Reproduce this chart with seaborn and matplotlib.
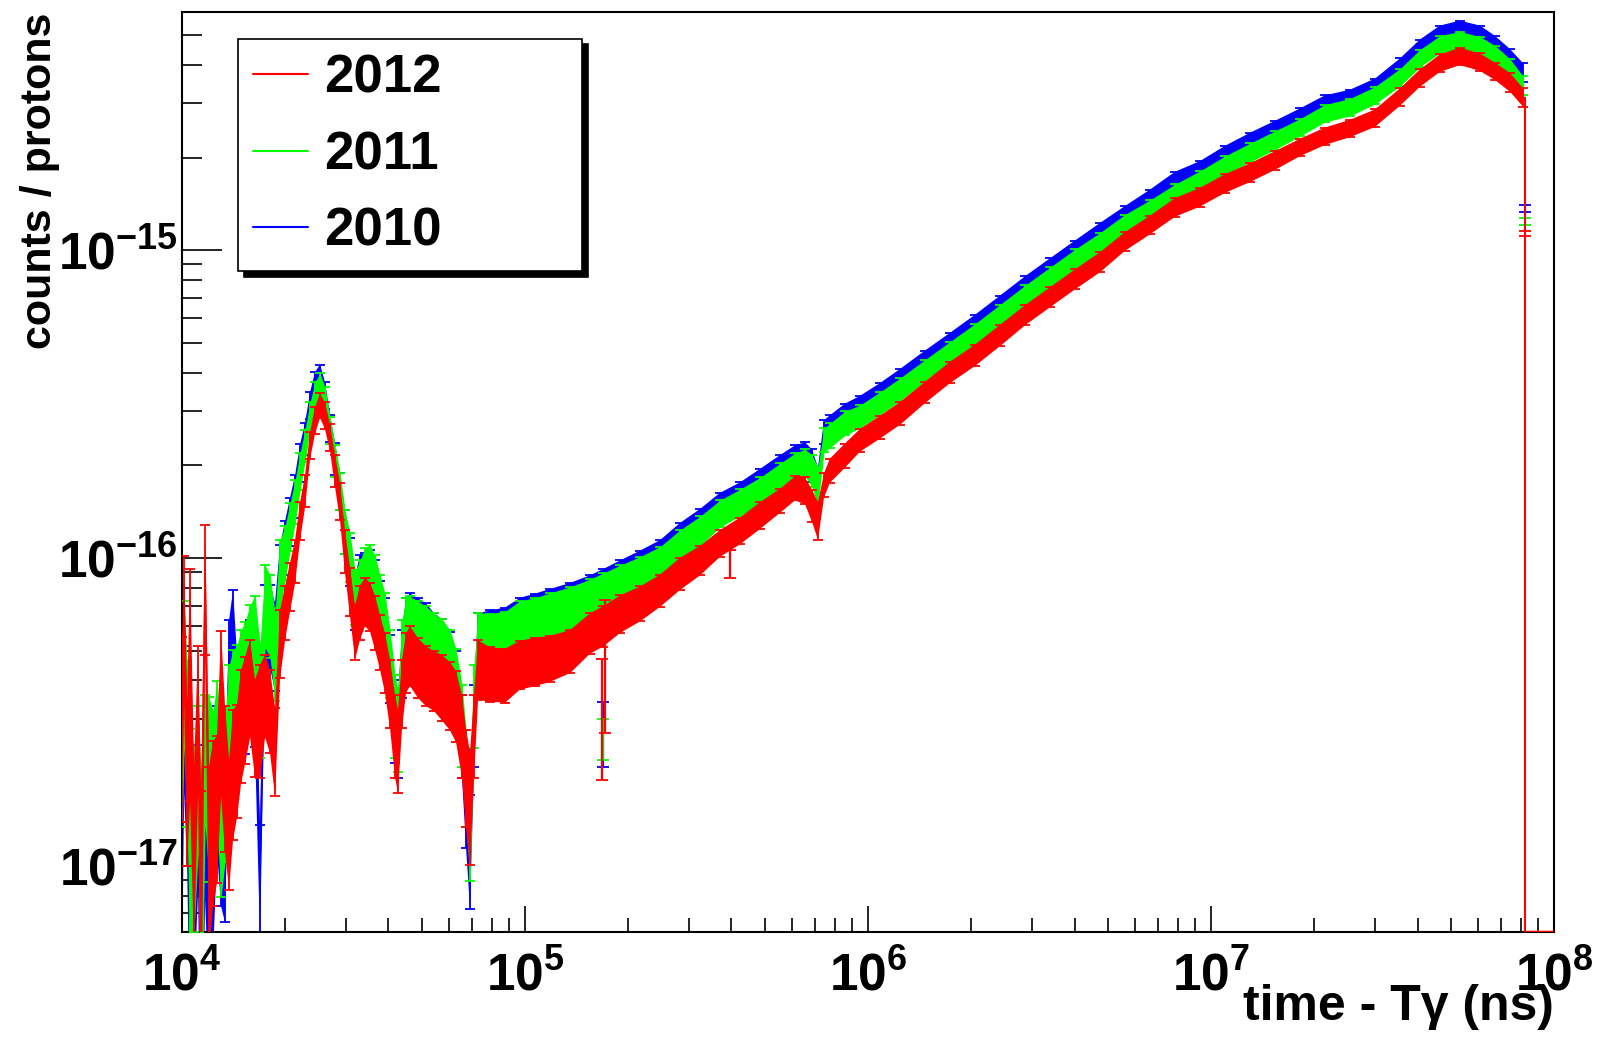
import numpy as np
import matplotlib
matplotlib.use("Agg")
import matplotlib.pyplot as plt
import seaborn as sns
from matplotlib.lines import Line2D
from matplotlib.ticker import LogLocator, FuncFormatter, NullFormatter

# ---------------- data ----------------
time_ns = [
    1.003e4, 1.015e4, 1.036e4, 1.057e4, 1.085e4, 1.115e4, 1.138e4, 1.169e4, 1.200e4, 1.233e4,
    1.266e4, 1.301e4, 1.336e4, 1.373e4, 1.410e4, 1.448e4, 1.488e4, 1.529e4, 1.581e4, 1.634e4,
    1.690e4, 1.748e4, 1.807e4, 1.869e4, 1.933e4,
    2.000e4, 2.067e4, 2.138e4, 2.211e4, 2.286e4, 2.364e4, 2.444e4, 2.528e4, 2.614e4, 2.704e4,
    2.796e4, 2.891e4, 2.990e4, 3.092e4, 3.197e4, 3.306e4, 3.420e4, 3.536e4, 3.657e4, 3.782e4,
    3.910e4, 4.044e4, 4.182e4, 4.267e4, 4.383e4, 4.502e4, 4.624e4,
    4.879e4, 5.148e4, 5.433e4, 5.732e4, 6.048e4, 6.297e4, 6.556e4, 6.735e4, 6.918e4, 7.107e4, 7.300e4,
    7.911e4, 8.750e4, 9.676e4, 1.070e5, 1.184e5, 1.354e5, 1.548e5, 1.690e5, 1.893e5, 2.166e5,
    2.476e5, 2.832e5, 3.239e5, 3.704e5, 4.236e5, 4.845e5, 5.541e5, 6.128e5, 6.553e5, 6.868e5,
    7.151e5, 7.445e5, 7.750e5, 8.570e5, 9.478e5,
    1.084e6, 1.240e6, 1.466e6, 1.734e6, 2.051e6, 2.425e6, 2.868e6, 3.392e6, 4.012e6, 4.745e6,
    5.611e6, 6.637e6, 7.849e6, 9.284e6,
    1.098e7, 1.299e7, 1.536e7, 1.816e7, 2.148e7, 2.541e7, 3.005e7, 3.554e7, 4.063e7, 4.647e7,
    5.314e7, 6.077e7, 6.722e7, 7.433e7, 8.110e7,
]

counts_2012 = [
    3.46e-17, 6.78e-17, 2.21e-17, 5.42e-17, 1.31e-17, 3.46e-17, 9.70e-18, 8.81e-17, 1.31e-17, 1.64e-17,
    1.76e-17, 3.73e-17, 2.21e-17, 1.52e-17, 2.21e-17, 2.38e-17, 3.09e-17, 3.46e-17, 4.02e-17, 2.98e-17,
    3.21e-17, 3.73e-17, 3.33e-17, 2.47e-17, 5.42e-17,
    6.78e-17, 8.18e-17, 9.86e-17, 1.33e-16, 1.66e-16, 2.33e-16, 2.81e-16, 3.14e-16, 2.91e-16, 2.47e-16,
    1.93e-16, 1.54e-16, 1.06e-16, 7.88e-17, 5.84e-17, 6.78e-17, 7.31e-17, 7.04e-17, 6.29e-17, 5.42e-17,
    4.67e-17, 3.73e-17, 2.76e-17, 2.47e-17, 3.73e-17, 4.67e-17, 4.92e-17,
    4.50e-17, 4.23e-17, 4.08e-17, 3.90e-17, 3.67e-17, 3.41e-17, 2.76e-17, 2.05e-17, 1.67e-17, 2.76e-17, 4.43e-17,
    4.27e-17, 4.23e-17, 4.56e-17, 4.67e-17, 4.77e-17, 5.03e-17, 5.75e-17, 6.06e-17, 6.63e-17, 7.15e-17,
    7.88e-17, 8.94e-17, 9.86e-17, 1.12e-16, 1.23e-16, 1.38e-16, 1.54e-16, 1.69e-16, 1.66e-16, 1.49e-16,
    1.33e-16, 1.73e-16, 1.93e-16, 2.16e-16, 2.42e-16,
    2.67e-16, 2.96e-16, 3.46e-16, 4.02e-16, 4.57e-16, 5.30e-16, 6.16e-16, 7.05e-16, 8.06e-16, 9.16e-16,
    1.07e-15, 1.21e-15, 1.38e-15, 1.49e-15,
    1.65e-15, 1.79e-15, 1.96e-15, 2.16e-15, 2.35e-15, 2.49e-15, 2.69e-15, 3.15e-15, 3.63e-15, 4.06e-15,
    4.27e-15, 4.09e-15, 3.82e-15, 3.52e-15, 3.15e-15,
]

counts_2011 = [
    3.46e-17, 4.84e-17, 2.98e-17, 1.64e-17, 1.52e-17, 2.21e-17, 1.13e-17, 2.47e-17, 2.21e-17, 2.05e-17,
    2.66e-17, 1.76e-17, 2.05e-17, 3.09e-17, 3.46e-17, 3.73e-17, 4.17e-17, 4.50e-17, 5.22e-17, 5.58e-17,
    3.73e-17, 7.31e-17, 6.78e-17, 5.03e-17, 9.15e-17,
    1.06e-16, 1.28e-16, 1.54e-16, 1.93e-16, 2.33e-16, 2.91e-16, 3.39e-16, 3.65e-16, 3.26e-16, 2.61e-16,
    2.08e-16, 1.66e-16, 1.23e-16, 1.02e-16, 7.59e-17, 8.18e-17, 9.15e-17, 9.35e-17, 8.49e-17, 7.31e-17,
    6.29e-17, 4.67e-17, 3.21e-17, 2.87e-17, 5.03e-17, 6.06e-17, 6.15e-17,
    5.93e-17, 5.71e-17, 5.42e-17, 5.11e-17, 4.67e-17, 4.02e-17, 2.98e-17, 2.05e-17, 1.49e-17, 3.46e-17, 5.42e-17,
    5.50e-17, 5.58e-17, 6.15e-17, 6.29e-17, 6.58e-17, 6.94e-17, 7.42e-17, 7.76e-17, 8.30e-17, 8.94e-17,
    9.71e-17, 1.10e-16, 1.23e-16, 1.40e-16, 1.52e-16, 1.66e-16, 1.86e-16, 2.01e-16, 2.05e-16, 1.93e-16,
    1.73e-16, 2.42e-16, 2.51e-16, 2.75e-16, 2.89e-16,
    3.19e-16, 3.54e-16, 4.08e-16, 4.67e-16, 5.34e-16, 6.16e-16, 7.15e-16, 8.18e-16, 9.36e-16, 1.06e-15,
    1.22e-15, 1.36e-15, 1.53e-15, 1.69e-15,
    1.89e-15, 2.08e-15, 2.28e-15, 2.51e-15, 2.79e-15, 2.92e-15, 3.19e-15, 3.65e-15, 4.21e-15, 4.67e-15,
    4.82e-15, 4.64e-15, 4.34e-15, 3.91e-15, 3.44e-15,
]

counts_2010 = [
    1.31e-17, 3.46e-17, 2.21e-17, 9.00e-18, 1.00e-17, 1.64e-17, 7.75e-18, 1.41e-17, 9.00e-18, 1.13e-17,
    2.21e-17, 1.64e-17, 1.31e-17, 4.33e-17, 5.42e-17, 3.46e-17, 3.73e-17, 3.73e-17, 4.67e-17, 3.73e-17,
    9.70e-18, 6.29e-17, 6.29e-17, 5.42e-17, 8.81e-17,
    1.10e-16, 1.33e-16, 1.60e-16, 2.05e-16, 2.45e-16, 3.14e-16, 3.65e-16, 3.90e-16, 3.39e-16, 2.65e-16,
    2.11e-16, 1.66e-16, 1.23e-16, 9.86e-17, 7.31e-17, 8.49e-17, 8.81e-17, 9.01e-17, 8.18e-17, 7.04e-17,
    6.06e-17, 4.50e-17, 3.09e-17, 2.76e-17, 4.67e-17, 6.06e-17, 6.29e-17,
    6.06e-17, 5.84e-17, 5.42e-17, 5.11e-17, 4.60e-17, 3.96e-17, 2.76e-17, 1.76e-17, 1.21e-17, 2.98e-17, 5.42e-17,
    5.63e-17, 5.75e-17, 6.29e-17, 6.49e-17, 6.78e-17, 7.15e-17, 7.64e-17, 8.00e-17, 8.61e-17, 9.35e-17,
    1.02e-16, 1.16e-16, 1.30e-16, 1.48e-16, 1.60e-16, 1.77e-16, 1.98e-16, 2.13e-16, 2.16e-16, 2.01e-16,
    1.73e-16, 2.57e-16, 2.67e-16, 2.91e-16, 3.10e-16,
    3.41e-16, 3.79e-16, 4.37e-16, 4.99e-16, 5.71e-16, 6.59e-16, 7.65e-16, 8.75e-16, 1.00e-15, 1.14e-15,
    1.30e-15, 1.47e-15, 1.68e-15, 1.82e-15,
    2.04e-15, 2.25e-15, 2.46e-15, 2.71e-15, 2.99e-15, 3.12e-15, 3.39e-15, 3.94e-15, 4.54e-15, 5.04e-15,
    5.23e-15, 5.04e-15, 4.67e-15, 4.21e-15, 3.79e-15,
]

rel_err = [
    0.60, 0.50, 0.55, 0.70, 0.60, 0.50, 0.80, 0.45, 0.60, 0.55,
    0.50, 0.55, 0.50, 0.45, 0.45, 0.40, 0.40, 0.38, 0.35, 0.35,
    0.40, 0.30, 0.30, 0.32, 0.25,
    0.20, 0.18, 0.16, 0.14, 0.12, 0.10, 0.10, 0.09, 0.10, 0.10,
    0.12, 0.14, 0.16, 0.18, 0.20, 0.20, 0.18, 0.18, 0.20, 0.20,
    0.22, 0.25, 0.30, 0.30, 0.25, 0.22, 0.22,
    0.22, 0.22, 0.22, 0.24, 0.25, 0.26, 0.30, 0.35, 0.40, 0.30, 0.22,
    0.20, 0.20, 0.18, 0.18, 0.17, 0.16, 0.15, 0.15, 0.14, 0.13,
    0.12, 0.12, 0.11, 0.10, 0.10, 0.10, 0.09, 0.09, 0.10, 0.12,
    0.14, 0.09, 0.09, 0.09, 0.085,
    0.085, 0.085, 0.08, 0.08, 0.08, 0.08, 0.075, 0.075, 0.075, 0.075,
    0.07, 0.07, 0.07, 0.07,
    0.07, 0.07, 0.07, 0.065, 0.065, 0.065, 0.065, 0.065, 0.065, 0.065,
    0.065, 0.065, 0.065, 0.07, 0.07,
]

# isolated bins with large uncertainties
spike_time_2012 = [1.68e5, 1.71e5, 3.96e5]
spike_counts_2012 = [3.3e-17, 5.0e-17, 9.6e-17]
spike_err_2012 = [1.4e-17, 2.3e-17, 1.0e-17]
spike_time_2011 = [1.69e5]
spike_counts_2011 = [2.6e-17]
spike_err_2011 = [0.4e-17]
spike_time_2010 = [1.69e5]
spike_counts_2010 = [2.75e-17]
spike_err_2010 = [0.65e-17]

# last bin before the histogram end
last_bin_time = 8.2e7
last_bin_2012 = 1.13e-15
last_bin_2011 = 1.24e-15
last_bin_2010 = 1.37e-15
last_bin_err = [0.020e-15, 0.030e-15, 0.035e-15]

years = ["2012", "2011", "2010"]
colors = ["#ff0000", "#00ff00", "#0000ff"]
x_limits = (1e4, 1e8)
y_limits = (6.08e-18, 5.93e-15)

# ---------------- style ----------------
sns.set_style("ticks")
plt.rcParams["font.family"] = ["Liberation Sans", "DejaVu Sans"]
plt.rcParams["font.weight"] = "bold"
plt.rcParams["text.color"] = "black"
plt.rcParams["axes.labelcolor"] = "black"
plt.rcParams["xtick.color"] = "black"
plt.rcParams["ytick.color"] = "black"
plt.rcParams["mathtext.fontset"] = "custom"
plt.rcParams["mathtext.bf"] = "Liberation Sans:bold"
plt.rcParams["mathtext.rm"] = "Liberation Sans:bold"
plt.rcParams["mathtext.it"] = "Liberation Sans:bold:italic"

fig = plt.figure(figsize=(16.01, 10.37), dpi=100)
ax = fig.add_axes([0.1136, 0.1010, 0.8571, 0.8872])
ax.set_xscale("log")
ax.set_yscale("log")

t = np.array(time_ns)
e = np.array(rel_err)

series = [
    ("2010", counts_2010, colors[2], spike_time_2010, spike_counts_2010, spike_err_2010, last_bin_2010, last_bin_err[2]),
    ("2011", counts_2011, colors[1], spike_time_2011, spike_counts_2011, spike_err_2011, last_bin_2011, last_bin_err[1]),
    ("2012", counts_2012, colors[0], spike_time_2012, spike_counts_2012, spike_err_2012, last_bin_2012, last_bin_err[0]),
]

for k, (year, vals, col, st, sv, se, lb, lbe) in enumerate(series):
    v = np.array(vals)
    zo = 2 + k
    ax.fill_between(t, v * (1 - e), v * (1 + e), color=col, lw=0, zorder=zo)
    ax.errorbar(t, v, yerr=v * e, fmt="none", ecolor=col, elinewidth=1.3,
                capsize=3.5, capthick=1.3, zorder=zo)
    sns.lineplot(x=t, y=v, color=col, lw=1.2, ax=ax, zorder=zo,
                 estimator=None, sort=False, legend=False)
    ax.errorbar(st, sv, yerr=se, fmt="none", ecolor=col, elinewidth=1.6,
                capsize=4, capthick=1.3, zorder=zo + 0.5)
    ax.errorbar([last_bin_time], [lb], yerr=[lbe], fmt="none", ecolor=col,
                elinewidth=1.2, capsize=4, capthick=1.3, zorder=zo)

# 2012 histogram drops to zero after its last bin
ax.vlines(last_bin_time, y_limits[0], counts_2012[-1], color=colors[0], lw=1.5, zorder=6)
ax.hlines(y_limits[0], last_bin_time, x_limits[1], color=colors[0], lw=2.5, zorder=6)

ax.set_xlim(*x_limits)
ax.set_ylim(*y_limits)

# ---------------- axes decoration ----------------
fmt = FuncFormatter(lambda val, pos: r"$\mathbf{10^{%d}}$" % int(round(np.log10(val))))
ax.xaxis.set_major_locator(LogLocator(base=10, numticks=10))
ax.xaxis.set_minor_locator(LogLocator(base=10, subs=np.arange(2, 10), numticks=40))
ax.yaxis.set_major_locator(LogLocator(base=10, numticks=10))
ax.yaxis.set_minor_locator(LogLocator(base=10, subs=np.arange(2, 10), numticks=40))
ax.xaxis.set_major_formatter(fmt)
ax.yaxis.set_major_formatter(fmt)
ax.xaxis.set_minor_formatter(NullFormatter())
ax.yaxis.set_minor_formatter(NullFormatter())

ax.tick_params(which="both", direction="in", top=False, right=False,
               width=1.2, color="black", labelcolor="black")
ax.tick_params(axis="x", which="major", length=19, pad=14, labelsize=37)
ax.tick_params(axis="x", which="minor", length=10)
ax.tick_params(axis="y", which="major", length=29, pad=3, labelsize=37)
ax.tick_params(axis="y", which="minor", length=14.5)

for s in ax.spines.values():
    s.set_linewidth(1.5)
    s.set_color("black")
    s.set_visible(True)

ax.set_xlabel("time - Tγ (ns)", fontsize=36, fontweight="bold", loc="right", color="black")
ax.xaxis.set_label_coords(1.0, -0.056)
ax.set_ylabel("counts / protons", fontsize=31, fontweight="bold", loc="top", color="black")
ax.yaxis.set_label_coords(-0.089, 1.0)

handles = [Line2D([], [], color=c, lw=1.5) for c in colors]
leg = ax.legend(handles, years, loc="upper left",
                bbox_to_anchor=(0.041, 0.721, 0.2507, 0.25), mode="expand",
                prop={"weight": "bold", "size": 38}, handlelength=1.05,
                handletextpad=0.3, borderpad=0.28, labelspacing=0.5,
                borderaxespad=0, frameon=True, fancybox=False, framealpha=1,
                edgecolor="black",
                shadow={"ox": 4, "oy": -4, "color": "black", "alpha": 1})
leg.get_frame().set_linewidth(1.2)
for txt in leg.get_texts():
    txt.set_color("black")
leg.set_zorder(10)

fig.savefig("out.png", dpi=100)
